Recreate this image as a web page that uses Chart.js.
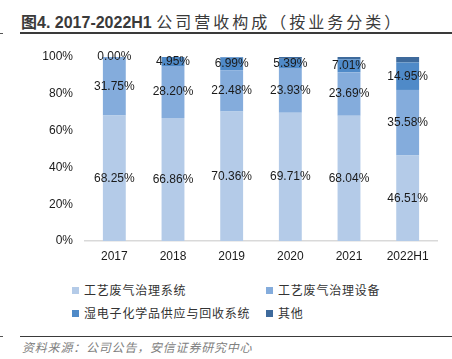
<!DOCTYPE html>
<html>
<head>
<meta charset="utf-8">
<script src="https://cdn.jsdelivr.net/npm/chart.js@4"></script>
<style>
  body { margin: 0; background: #fff; width: 452px; height: 359px; position: relative; overflow: hidden;
         font-family: "Liberation Sans", "Noto Sans CJK SC", sans-serif; }
  #title { position: absolute; left: 21px; top: 9px; font-size: 16px; font-weight: bold; color: #3a3a3a; white-space: nowrap; }
  #title span { font-weight: normal; letter-spacing: 3px; font-family: "Noto Sans CJK SC", sans-serif; }
  .rule { position: absolute; left: 20px; right: 0; height: 1px; background: #3a3a3a; }
  .tick { position: absolute; left: 0; width: 3px; height: 1px; background: #555; }
  #wrap { position: absolute; left: 0; top: 45px; width: 452px; height: 218px; }
  .leg { position: absolute; font-family: "Noto Sans CJK SC", sans-serif; font-size: 12px; color: #333; white-space: nowrap; letter-spacing: 0.8px; }
  .leg i { display: inline-block; width: 7px; height: 7px; margin-right: 5px; vertical-align: 1px; }
  #src { position: absolute; left: 22px; top: 338px; font-size: 12px; color: #808080; font-style: italic;
         font-family: "Noto Sans CJK SC", sans-serif; letter-spacing: 0.8px; }
</style>
</head>
<body>
<div id="title">图4. 2017-2022H1 <span>公司营收构成（按业务分类）</span></div>
<div class="rule" style="top:32px;height:1.5px"></div>
<div class="tick" style="top:33px"></div>
<div id="wrap"><canvas id="myChart"></canvas></div>
<div id="legend"></div>
<div class="rule" style="top:336px"></div>
<div class="tick" style="top:336px"></div>
<div id="src">资料来源：公司公告，安信证券研究中心</div>
<script>
var categories = ["2017", "2018", "2019", "2020", "2021", "2022H1"];
var seriesNames = ["工艺废气治理系统", "工艺废气治理设备", "湿电子化学品供应与回收系统", "其他"];
var gasSystem = [68.25, 66.86, 70.36, 69.71, 68.04, 46.51];
var gasEquipment = [31.75, 28.20, 22.48, 23.93, 23.69, 35.58];
var wetChem = [0.00, 4.95, 6.99, 5.39, 7.01, 14.95];
var others = [0.00, 0.00, 0.17, 0.97, 1.26, 2.96];
var yTicks = [0, 20, 40, 60, 80, 100];
var colors = ["#b4cbe8", "#84acdc", "#4f8ac8", "#3e6a9c"];
var showLabel = [true, true, true, false];

var legendPos = [[72, 281], [266, 281], [72, 304], [266, 304]];
var legendHtml = "";
seriesNames.forEach(function (n, i) {
  legendHtml += '<div class="leg" style="left:' + legendPos[i][0] + 'px;top:' + legendPos[i][1] + 'px"><i style="background:' + colors[i] + '"></i>' + n + '</div>';
});
document.getElementById("legend").innerHTML = legendHtml;

var labelPlugin = {
  id: 'segLabels',
  afterDatasetsDraw: function (chart) {
    var ctx = chart.ctx;
    ctx.save();
    ctx.font = '12px "Liberation Sans", Arial, sans-serif';
    ctx.fillStyle = '#1a1a1a';
    ctx.textAlign = 'center';
    ctx.textBaseline = 'middle';
    chart.data.datasets.forEach(function (ds, di) {
      if (!showLabel[di]) return;
      chart.getDatasetMeta(di).data.forEach(function (bar, i) {
        var y = (bar.y + bar.base) / 2;
        if (ds.data[i] === 0) y = bar.y;
        ctx.fillText(ds.data[i].toFixed(2) + '%', bar.x, y);
      });
    });
    ctx.restore();
  }
};

var ctx = document.getElementById('myChart').getContext('2d');
var myChart = new Chart(ctx, {
  type: 'bar',
  data: {
    labels: categories,
    datasets: [gasSystem, gasEquipment, wetChem, others].map(function (d, i) {
      return { label: seriesNames[i], data: d, backgroundColor: colors[i], borderWidth: 0,
               categoryPercentage: 1, barPercentage: 0.39 };
    })
  },
  options: {
    responsive: true,
    maintainAspectRatio: false,
    animation: false,
    layout: { padding: { top: 12, right: 15, left: 0, bottom: 0 } },
    plugins: { legend: { display: false }, tooltip: { enabled: false } },
    scales: {
      x: {
        stacked: true,
        grid: { display: false, drawTicks: false },
        border: { color: '#d9d9d9', width: 1.5 },
        ticks: { color: '#1a1a1a', font: { size: 12, family: '"Liberation Sans", Arial' }, padding: 8 },
        afterFit: function (s) { s.height = 22; s.paddingLeft = 0; s.paddingRight = 0; }
      },
      y: {
        stacked: true,
        min: 0, max: 100,
        afterBuildTicks: function (s) { s.ticks = yTicks.map(function (v) { return { value: v }; }); },
        grid: { display: false, drawTicks: false },
        border: { display: false },
        ticks: { color: '#1a1a1a', font: { size: 12, family: '"Liberation Sans", Arial' }, padding: 12,
                 callback: function (v) { return v + '%'; } },
        afterFit: function (s) { s.width = 85; s.paddingTop = 0; s.paddingBottom = 0; }
      }
    }
  },
  plugins: [labelPlugin]
});
</script>
</body>
</html>
